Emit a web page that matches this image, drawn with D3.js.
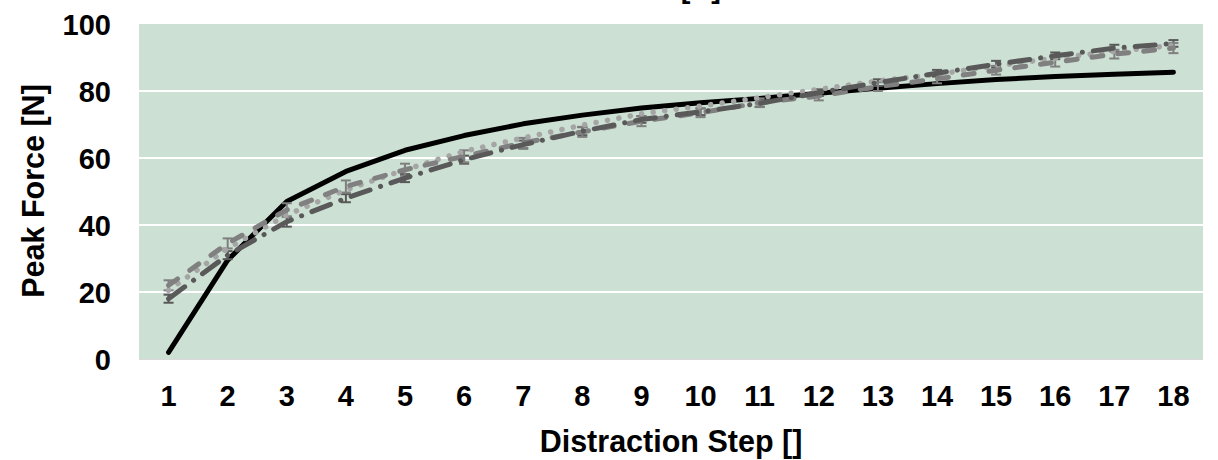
<!DOCTYPE html>
<html><head><meta charset="utf-8">
<script src="https://cdn.jsdelivr.net/npm/d3@7"></script>
<style>
html,body{margin:0;padding:0;background:#fff;}
text{font-family:"Liberation Sans",Arial,sans-serif;font-weight:bold;fill:#000;}
</style></head>
<body><svg id="chart" width="1218" height="460"></svg>
<script>
const steps = [1,2,3,4,5,6,7,8,9,10,11,12,13,14,15,16,17,18];
const yTicks = [0,20,40,60,80,100];
const solidBlack = [2,29.5,47,56,62.3,66.7,70.2,72.8,74.9,76.5,77.8,79.3,80.8,82.2,83.4,84.3,85.0,85.6];
const darkDashDot = [18,31,41,48,54,59.5,64,68,71.5,73.8,76.3,79.5,82.5,85.3,88,90.5,92.8,94.2];
const midDash = [22,34.5,44.5,51.5,56.5,60.5,64.5,67.8,71,73.5,76.5,78.5,81.3,83.6,86.2,88.6,91,92.8];
const lightDot = [20.5,33,43,50.5,56.5,62,66,69.8,73.2,75.5,78,80.5,83,85,87.5,89.8,91.8,93.6];
const darkErr = [1.2,1.2,1.5,1.2,1.2,1.2,1.2,1.2,1,1,1,1,1,1,1,1,1,1];
const midErr = [1.5,1.5,2,1.8,1.8,1.8,1.5,1.5,1.5,1.3,1.3,1.3,1.3,1.3,1.3,1.3,1.3,1.5];
const titleText = "Force [N]";
const xTitle = "Distraction Step []";
const yTitle = "Peak Force [N]";

const svg = d3.select("#chart");
const L=139, R=1203, T=24, B=359;
const x = d3.scaleBand().domain(steps).range([L,R]);
const y = d3.scaleLinear().domain([0,100]).range([B,T]);
const cx = d => x(d)+x.bandwidth()/2;

svg.append("rect").attr("x",L).attr("y",T).attr("width",R-L).attr("height",B-T).attr("fill","#cde0d4");
svg.append("g").selectAll("line").data(yTicks.filter(v=>v>0&&v<100)).join("line")
  .attr("x1",L).attr("x2",R).attr("y1",d=>y(d)).attr("y2",d=>y(d)).attr("stroke","#fff").attr("stroke-width",2);
svg.append("line").attr("x1",L).attr("x2",R).attr("y1",B+0.5).attr("y2",B+0.5).attr("stroke","#d9d9d9").attr("stroke-width",1);

// axes
const yAxis = d3.axisLeft(y).tickValues(yTicks).tickSize(0).tickPadding(0);
const gy = svg.append("g").attr("transform",`translate(111,0)`).call(yAxis);
gy.select(".domain").remove();
gy.selectAll("text").attr("font-size",29).attr("dy","0.35em");
const xAxis = d3.axisBottom(x).tickSize(0).tickPadding(0);
const gx = svg.append("g").attr("transform",`translate(0,${B})`).call(xAxis);
gx.select(".domain").remove();
gx.selectAll("text").attr("font-size",29).attr("y",47).attr("dy",0);

svg.append("text").attr("x",671).attr("y",452).attr("text-anchor","middle").attr("font-size",30.5).text(xTitle);
svg.append("text").attr("transform","translate(44,191) rotate(-90)").attr("text-anchor","middle").attr("font-size",30.5).text(yTitle);
svg.append("text").attr("x",721).attr("y",-2).attr("text-anchor","end").attr("font-size",29).text(titleText);

const line = d3.line().x((d,i)=>cx(steps[i])).y(d=>y(d));

function errBars(vals, errs, color){
  const g = svg.append("g").attr("stroke",color).attr("stroke-width",2);
  vals.forEach((v,i)=>{
    const xx = cx(steps[i]);
    g.append("line").attr("x1",xx).attr("x2",xx).attr("y1",y(v-errs[i])).attr("y2",y(v+errs[i]));
    g.append("line").attr("x1",xx-5).attr("x2",xx+5).attr("y1",y(v-errs[i])).attr("y2",y(v-errs[i]));
    g.append("line").attr("x1",xx-5).attr("x2",xx+5).attr("y1",y(v+errs[i])).attr("y2",y(v+errs[i]));
  });
}

svg.append("path").datum(solidBlack).attr("d",line).attr("fill","none").attr("stroke","#000").attr("stroke-width",5).attr("stroke-linecap","round").attr("stroke-linejoin","round");
errBars(darkDashDot, darkErr, "#595959");
errBars(midDash, midErr, "#7f7f7f");
svg.append("path").datum(lightDot).attr("d",line).attr("fill","none").attr("stroke","#a5a5a5").attr("stroke-width",5.5).attr("stroke-linecap","round").attr("stroke-dasharray","0.1 11.5");
svg.append("path").datum(midDash).attr("d",line).attr("fill","none").attr("stroke","#808080").attr("stroke-width",5).attr("stroke-linecap","round").attr("stroke-dasharray","11 15");
svg.append("path").datum(darkDashDot).attr("d",line).attr("fill","none").attr("stroke","#595959").attr("stroke-width",5).attr("stroke-linecap","round").attr("stroke-dasharray","20 11 0.1 11");
</script></body></html>
